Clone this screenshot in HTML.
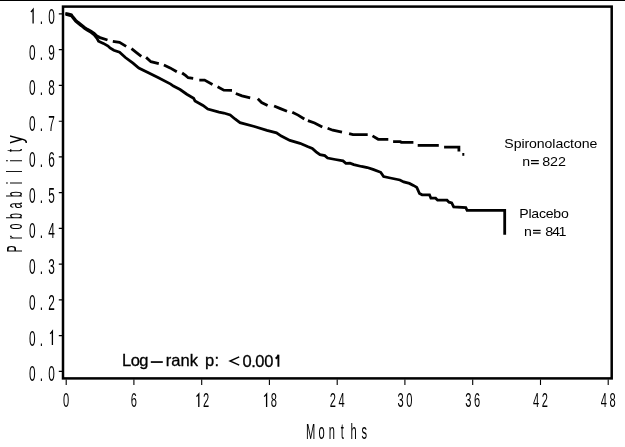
<!DOCTYPE html><html><head><meta charset="utf-8"><style>html,body{margin:0;padding:0;background:#fff;overflow:hidden}svg{display:block;will-change:transform;font-family:"Liberation Sans",sans-serif}</style></head><body><svg width="625" height="447" viewBox="0 0 625 447"><rect x="0" y="0" width="625" height="447" fill="#fff"/><rect x="0" y="0" width="625" height="1" fill="#000"/><rect x="63.0" y="6.6" width="548.7" height="371.8" fill="none" stroke="#000" stroke-width="2.5"/><path d="M58.8 371.4H62 M58.8 335.6H62 M58.8 299.9H62 M58.8 264.1H62 M58.8 228.4H62 M58.8 192.6H62 M58.8 156.9H62 M58.8 121.2H62 M58.8 85.4H62 M58.8 49.6H62 M58.8 13.9H62 M66.2 379.5V385 M133.9 379.5V385 M201.7 379.5V385 M269.4 379.5V385 M337.2 379.5V385 M404.9 379.5V385 M472.7 379.5V385 M540.5 379.5V385 M608.2 379.5V385" stroke="#000" stroke-width="1.1" fill="none"/><polyline points="65.6,14.3 68,14.8 71.4,15.8 73,18 75.7,21.2 78,23.2 81.4,25.8 84.5,28.4 87.5,30.4 91,32.4 94.2,34.8 97,38.4 98.5,41.2 103.4,43.4 108.1,46.1 110,47.9 113.8,50.3 119.6,52.2 125.4,57.5 133,63.2 138.8,68 148.4,72.8 158,77.6 170.7,84.1 173.4,86.1 180.1,89.5 186.8,94.2 193.6,98.2 195,101 203,105.4 207.8,109 219,112.2 223.8,113 230.2,115 235,119 240,122.7 254.4,126.5 266.9,130.4 276.5,132.8 281.3,136.1 289.9,140.4 300,143.3 307.5,146.5 312.3,148.4 316.1,151.8 320,154.7 324.8,155.6 327.6,158 335.3,159.5 343,160.9 345.9,163.3 350,163.2 353.8,164.6 361.5,166.5 367.3,167.5 373,169.4 380.7,172.3 383.6,176.6 390.3,178 399.9,180 403.7,181.9 409.4,183.4 413.4,185.4 416.8,187.4 419.5,193.5 422.1,194.8 429.5,194.8 430.9,198.2 435.6,198.2 437.6,200.2 447,200.2 449,202.2 451.7,202.9 453.7,206.9 465.8,207.6 467.1,210.3 504.7,210.4 504.7,234.8" fill="none" stroke="#000" stroke-width="2.8" stroke-linejoin="miter" stroke-linecap="butt"/><polyline points="65.3,13.4 68,13.9 71.4,14.8 73,17 75.7,20.2 78,22.2 81.4,24.8 84.5,27.3 87.5,29.3 91,31.3 94.2,33.4 97,36 100,37.6 107.5,40" fill="none" stroke="#000" stroke-width="2.8" stroke-linejoin="miter" stroke-linecap="butt"/><polyline points="112.8,41.4 119.5,42.4 126.2,46.4" fill="none" stroke="#000" stroke-width="2.8" stroke-linejoin="miter" stroke-linecap="butt"/><polyline points="131.5,48.6 136.5,52.6 141.3,56.4" fill="none" stroke="#000" stroke-width="2.8" stroke-linejoin="miter" stroke-linecap="butt"/><polyline points="146.1,57.4 150.9,61.7 158.8,63.6" fill="none" stroke="#000" stroke-width="2.8" stroke-linejoin="miter" stroke-linecap="butt"/><polyline points="163.9,65 170.1,67.9 176.8,71.8" fill="none" stroke="#000" stroke-width="2.8" stroke-linejoin="miter" stroke-linecap="butt"/><polyline points="182.1,73 185.5,75.4 188.2,77.7 193.2,78.4" fill="none" stroke="#000" stroke-width="2.8" stroke-linejoin="miter" stroke-linecap="butt"/><polyline points="199.3,80.1 204.6,80.1 212.5,84.4" fill="none" stroke="#000" stroke-width="2.8" stroke-linejoin="miter" stroke-linecap="butt"/><polyline points="217.6,86.8 223.8,90.2 232,90.4" fill="none" stroke="#000" stroke-width="2.8" stroke-linejoin="miter" stroke-linecap="butt"/><polyline points="235.8,93.5 242,95.9 250.2,97.8" fill="none" stroke="#000" stroke-width="2.8" stroke-linejoin="miter" stroke-linecap="butt"/><polyline points="257.8,98.8 261.6,102.6 267.6,105.5" fill="none" stroke="#000" stroke-width="2.8" stroke-linejoin="miter" stroke-linecap="butt"/><polyline points="274.1,106 279.8,108.4 287,111.3" fill="none" stroke="#000" stroke-width="2.8" stroke-linejoin="miter" stroke-linecap="butt"/><polyline points="292.3,112.2 298.1,115.1 304.3,119" fill="none" stroke="#000" stroke-width="2.8" stroke-linejoin="miter" stroke-linecap="butt"/><polyline points="307.9,120.6 314.6,123 322.3,126.9" fill="none" stroke="#000" stroke-width="2.8" stroke-linejoin="miter" stroke-linecap="butt"/><polyline points="327.6,128.3 332.8,130.2 342,132.2" fill="none" stroke="#000" stroke-width="2.8" stroke-linejoin="miter" stroke-linecap="butt"/><polyline points="349.1,133.6 353,134.6 367.7,134.6" fill="none" stroke="#000" stroke-width="2.8" stroke-linejoin="miter" stroke-linecap="butt"/><polyline points="372.5,135.9 378.2,139.3 388.3,139.3" fill="none" stroke="#000" stroke-width="2.8" stroke-linejoin="miter" stroke-linecap="butt"/><polyline points="393.1,141.7 400.3,141.7 401.3,142.3 413.4,142.3" fill="none" stroke="#000" stroke-width="2.8" stroke-linejoin="miter" stroke-linecap="butt"/><polyline points="417.7,145.4 438.8,145.4" fill="none" stroke="#000" stroke-width="2.8" stroke-linejoin="miter" stroke-linecap="butt"/><polyline points="444.1,147.1 458.9,147.1 458.9,151.4" fill="none" stroke="#000" stroke-width="2.8" stroke-linejoin="miter" stroke-linecap="butt"/><polyline points="462.3,154.4 464.3,154.4" fill="none" stroke="#000" stroke-width="2.8" stroke-linejoin="miter" stroke-linecap="butt"/><g font-family="Liberation Sans" fill="#000"><text transform="translate(32.2,381.3) scale(0.55,1)" text-anchor="middle" font-size="21.5">0</text><text transform="translate(41.5,381.3) scale(0.55,1)" text-anchor="middle" font-size="21.5">.</text><text transform="translate(51.5,381.3) scale(0.55,1)" text-anchor="middle" font-size="21.5">0</text><text transform="translate(32.2,345.5) scale(0.55,1)" text-anchor="middle" font-size="21.5">0</text><text transform="translate(41.5,345.5) scale(0.55,1)" text-anchor="middle" font-size="21.5">.</text><text transform="translate(32.2,309.8) scale(0.55,1)" text-anchor="middle" font-size="21.5">0</text><text transform="translate(41.5,309.8) scale(0.55,1)" text-anchor="middle" font-size="21.5">.</text><text transform="translate(51.5,309.8) scale(0.55,1)" text-anchor="middle" font-size="21.5">2</text><text transform="translate(32.2,274) scale(0.55,1)" text-anchor="middle" font-size="21.5">0</text><text transform="translate(41.5,274) scale(0.55,1)" text-anchor="middle" font-size="21.5">.</text><text transform="translate(51.5,274) scale(0.55,1)" text-anchor="middle" font-size="21.5">3</text><text transform="translate(32.2,238.3) scale(0.55,1)" text-anchor="middle" font-size="21.5">0</text><text transform="translate(41.5,238.3) scale(0.55,1)" text-anchor="middle" font-size="21.5">.</text><text transform="translate(51.5,238.3) scale(0.55,1)" text-anchor="middle" font-size="21.5">4</text><text transform="translate(32.2,202.5) scale(0.55,1)" text-anchor="middle" font-size="21.5">0</text><text transform="translate(41.5,202.5) scale(0.55,1)" text-anchor="middle" font-size="21.5">.</text><text transform="translate(51.5,202.5) scale(0.55,1)" text-anchor="middle" font-size="21.5">5</text><text transform="translate(32.2,166.8) scale(0.55,1)" text-anchor="middle" font-size="21.5">0</text><text transform="translate(41.5,166.8) scale(0.55,1)" text-anchor="middle" font-size="21.5">.</text><text transform="translate(51.5,166.8) scale(0.55,1)" text-anchor="middle" font-size="21.5">6</text><text transform="translate(32.2,131.1) scale(0.55,1)" text-anchor="middle" font-size="21.5">0</text><text transform="translate(41.5,131.1) scale(0.55,1)" text-anchor="middle" font-size="21.5">.</text><text transform="translate(51.5,131.1) scale(0.55,1)" text-anchor="middle" font-size="21.5">7</text><text transform="translate(32.2,95.3) scale(0.55,1)" text-anchor="middle" font-size="21.5">0</text><text transform="translate(41.5,95.3) scale(0.55,1)" text-anchor="middle" font-size="21.5">.</text><text transform="translate(51.5,95.3) scale(0.55,1)" text-anchor="middle" font-size="21.5">8</text><text transform="translate(32.2,59.5) scale(0.55,1)" text-anchor="middle" font-size="21.5">0</text><text transform="translate(41.5,59.5) scale(0.55,1)" text-anchor="middle" font-size="21.5">.</text><text transform="translate(51.5,59.5) scale(0.55,1)" text-anchor="middle" font-size="21.5">9</text><text transform="translate(41.5,23.8) scale(0.55,1)" text-anchor="middle" font-size="21.5">.</text><text transform="translate(51.5,23.8) scale(0.55,1)" text-anchor="middle" font-size="21.5">0</text><text transform="translate(66.2,407.2) scale(0.55,1)" text-anchor="middle" font-size="20.2">0</text><text transform="translate(133.9,407.2) scale(0.55,1)" text-anchor="middle" font-size="20.2">6</text><text transform="translate(206.1,407.2) scale(0.55,1)" text-anchor="middle" font-size="20.2">2</text><text transform="translate(273.8,407.2) scale(0.55,1)" text-anchor="middle" font-size="20.2">8</text><text transform="translate(332.8,407.2) scale(0.55,1)" text-anchor="middle" font-size="20.2">2</text><text transform="translate(341.6,407.2) scale(0.55,1)" text-anchor="middle" font-size="20.2">4</text><text transform="translate(400.6,407.2) scale(0.55,1)" text-anchor="middle" font-size="20.2">3</text><text transform="translate(409.3,407.2) scale(0.55,1)" text-anchor="middle" font-size="20.2">0</text><text transform="translate(468.3,407.2) scale(0.55,1)" text-anchor="middle" font-size="20.2">3</text><text transform="translate(477.1,407.2) scale(0.55,1)" text-anchor="middle" font-size="20.2">6</text><text transform="translate(536.1,407.2) scale(0.55,1)" text-anchor="middle" font-size="20.2">4</text><text transform="translate(544.9,407.2) scale(0.55,1)" text-anchor="middle" font-size="20.2">2</text><text transform="translate(603.8,407.2) scale(0.55,1)" text-anchor="middle" font-size="20.2">4</text><text transform="translate(612.6,407.2) scale(0.55,1)" text-anchor="middle" font-size="20.2">8</text></g><path d="M50.2 333.8L52.4 331.1V345.1 M30.9 12.1L33.1 9.4V23.4 M196.5 396.6L198.8 393.9V407 M264.2 396.6L266.6 393.9V407" fill="none" stroke="#000" stroke-width="1.3"/><g font-family="Liberation Sans" fill="#000"><text transform="translate(310.7,439.3) scale(0.5,1)" text-anchor="middle" font-size="22.3">M</text><text transform="translate(321.5,439.3) scale(0.5,1)" text-anchor="middle" font-size="22.3">o</text><text transform="translate(331.9,439.3) scale(0.5,1)" text-anchor="middle" font-size="22.3">n</text><text transform="translate(342.4,439.3) scale(0.5,1)" text-anchor="middle" font-size="22.3">t</text><text transform="translate(353.5,439.3) scale(0.5,1)" text-anchor="middle" font-size="22.3">h</text><text transform="translate(364.4,439.3) scale(0.5,1)" text-anchor="middle" font-size="22.3">s</text></g><g font-family="Liberation Sans" fill="#000"><text transform="translate(21.8,249) rotate(-90) scale(0.5,1)" text-anchor="middle" font-size="21.5">P</text><text transform="translate(21.8,237.5) rotate(-90) scale(0.5,1)" text-anchor="middle" font-size="21.5">r</text><text transform="translate(21.8,226.5) rotate(-90) scale(0.5,1)" text-anchor="middle" font-size="21.5">o</text><text transform="translate(21.8,216) rotate(-90) scale(0.5,1)" text-anchor="middle" font-size="21.5">b</text><text transform="translate(21.8,205.5) rotate(-90) scale(0.5,1)" text-anchor="middle" font-size="21.5">a</text><text transform="translate(21.8,194.2) rotate(-90) scale(0.5,1)" text-anchor="middle" font-size="21.5">b</text><text transform="translate(21.8,183) rotate(-90) scale(0.5,1)" text-anchor="middle" font-size="21.5">i</text><text transform="translate(21.8,171.5) rotate(-90) scale(0.5,1)" text-anchor="middle" font-size="21.5">l</text><text transform="translate(21.8,160.8) rotate(-90) scale(0.5,1)" text-anchor="middle" font-size="21.5">i</text><text transform="translate(21.8,150.5) rotate(-90) scale(0.5,1)" text-anchor="middle" font-size="21.5">t</text><text transform="translate(21.8,139.4) rotate(-90) scale(0.78,1)" text-anchor="middle" font-size="21.5">y</text></g><g font-family="Liberation Sans" fill="#000"><text transform="translate(504.3,147.7) scale(1.07,1)" font-size="13.2" letter-spacing="-0.08">Spironolactone</text><text transform="translate(522.2,166.0) scale(1.07,1)" font-size="13.2" letter-spacing="0">n</text><text transform="translate(542.2,166.0) scale(1.07,1)" font-size="13.4" letter-spacing="-0.09">822</text><text transform="translate(519.3,217.8) scale(1.07,1)" font-size="13.2" letter-spacing="-0.23">Placebo</text><text transform="translate(524.0,235.7) scale(1.07,1)" font-size="13.2" letter-spacing="0">n</text><text transform="translate(545.2,235.7) scale(1.07,1)" font-size="13.4" letter-spacing="-1.17">841</text><text x="122.0" y="366.4" font-size="16.5" letter-spacing="-0.5" stroke="#000" stroke-width="0.3">Log</text><text x="165.7" y="366.2" font-size="16.5" letter-spacing="0.1" stroke="#000" stroke-width="0.3">rank</text><text x="205.0" y="366.2" font-size="16.5" letter-spacing="0.4" stroke="#000" stroke-width="0.3">p:</text><path d="M275.6 358.6Q277.6 357.4 278.4 354.8V366.7" fill="none" stroke="#000" stroke-width="1.9"/><text x="242.4" y="366.7" font-size="16.5" letter-spacing="-0.4" stroke="#000" stroke-width="0.3">0.00</text></g><rect x="150.8" y="361.2" width="12" height="1.7" fill="#000"/><rect x="531" y="160" width="7.8" height="1.3" fill="#000"/><rect x="531" y="162.9" width="7.8" height="1.3" fill="#000"/><rect x="533" y="229.8" width="7.6" height="1.3" fill="#000"/><rect x="533" y="232.4" width="7.6" height="1.3" fill="#000"/><polyline points="239.2,356.9 230,361 239.2,365.1" fill="none" stroke="#000" stroke-width="1.4"/></svg></body></html>
